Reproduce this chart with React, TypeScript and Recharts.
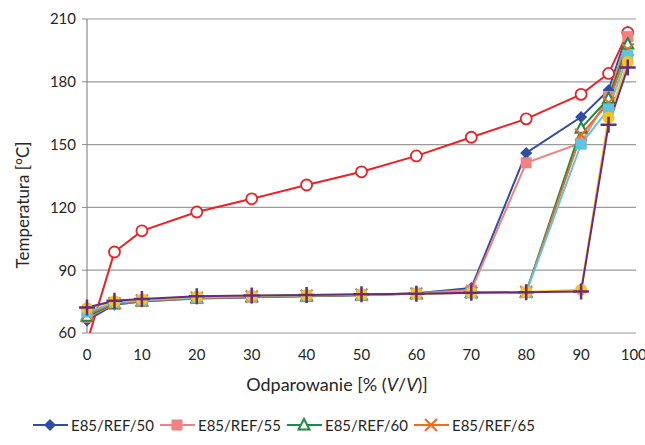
import React from 'react';
import { LineChart, Line, XAxis, YAxis, CartesianGrid } from 'recharts';

// % evaporated (shared x positions for every series)
const evaporated = [0, 5, 10, 20, 30, 40, 50, 60, 70, 80, 90, 95, 98.5];

// distillation temperatures, °C
const ref = [55.5, 98.7, 108.8, 117.8, 124.1, 130.7, 137.0, 144.6, 153.5, 162.3, 174.0, 184.0, 203.5];
const e50 = [66.0, 73.5, 75.0, 76.5, 77.0, 77.5, 78.0, 79.0, 81.5, 146.0, 163.2, 176.0, 204.0];
const e55 = [67.5, 73.8, 75.2, 76.6, 77.2, 77.6, 78.2, 79.0, 80.5, 141.3, 150.8, 173.0, 201.6];
const e60 = [68.0, 74.0, 75.3, 76.7, 77.3, 77.7, 78.2, 78.8, 79.3, 79.5, 157.8, 172.0, 198.0];
const e65 = [69.0, 74.2, 75.5, 76.8, 77.4, 77.8, 78.3, 78.8, 79.2, 79.6, 154.7, 170.0, 195.4];
const e70 = [70.0, 74.5, 75.6, 76.9, 77.5, 77.9, 78.3, 78.7, 79.1, 79.4, 150.2, 167.0, 192.5];
const e75 = [71.8, 75.2, 76.0, 77.3, 77.8, 78.1, 78.4, 78.8, 79.2, 79.6, 80.7, 163.0, 189.5];
const e80 = [72.2, 75.4, 76.2, 77.5, 77.9, 78.2, 78.5, 78.8, 79.2, 79.5, 79.8, 159.5, 186.8];

const xTicks = [0, 10, 20, 30, 40, 50, 60, 70, 80, 90, 100];
const yTicks = [60, 90, 120, 150, 180, 210];

type MarkerKind = 'diamond' | 'square' | 'triangle' | 'cross' | 'circle' | 'plus' | 'ring';

interface SeriesDef {
  key: string;
  name: string;
  values: number[];
  color: string;
  marker: MarkerKind;
}

const series: SeriesDef[] = [
  { key: 'e50', name: 'E85/REF/50', values: e50, color: '#2e4f9e', marker: 'diamond' },
  { key: 'ref', name: 'REF', values: ref, color: '#ee2024', marker: 'ring' },
  { key: 'e55', name: 'E85/REF/55', values: e55, color: '#f08282', marker: 'square' },
  { key: 'e60', name: 'E85/REF/60', values: e60, color: '#1e8a4a', marker: 'triangle' },
  { key: 'e65', name: 'E85/REF/65', values: e65, color: '#f26a22', marker: 'cross' },
  { key: 'e70', name: 'E85/REF/70', values: e70, color: '#5cc6e0', marker: 'square' },
  { key: 'e75', name: 'E85/REF/75', values: e75, color: '#f6c41a', marker: 'circle' },
  { key: 'e80', name: 'E85/REF/80', values: e80, color: '#6a2a84', marker: 'plus' },
];

// legend row along the bottom edge
const legendOrder = ['e50', 'e55', 'e60', 'e65'];

const data = evaporated.map((x, i) => {
  const row: Record<string, number> = { x };
  series.forEach((s) => {
    row[s.key] = s.values[i];
  });
  return row;
});

const Marker = ({ kind, cx, cy, color }: { kind: MarkerKind; cx: number; cy: number; color: string }) => {
  switch (kind) {
    case 'diamond':
      return <path d={`M${cx},${cy - 6}L${cx + 6},${cy}L${cx},${cy + 6}L${cx - 6},${cy}Z`} fill={color} />;
    case 'square':
      return <rect x={cx - 5.5} y={cy - 5.5} width={11} height={11} fill={color} />;
    case 'triangle':
      return (
        <path
          d={`M${cx},${cy - 6}L${cx + 5.5},${cy + 4.5}L${cx - 5.5},${cy + 4.5}Z`}
          fill="#fff"
          stroke={color}
          strokeWidth={2}
        />
      );
    case 'cross':
      return (
        <path
          d={`M${cx - 6},${cy - 6}L${cx + 6},${cy + 6}M${cx + 6},${cy - 6}L${cx - 6},${cy + 6}`}
          stroke={color}
          strokeWidth={2}
        />
      );
    case 'circle':
      return <circle cx={cx} cy={cy} r={6} fill={color} />;
    case 'plus':
      return (
        <path
          d={`M${cx - 8},${cy}L${cx + 8},${cy}M${cx},${cy - 8}L${cx},${cy + 8}`}
          stroke={color}
          strokeWidth={2.5}
        />
      );
    case 'ring':
    default:
      return <circle cx={cx} cy={cy} r={5.5} fill="#fff" stroke={color} strokeWidth={1.8} />;
  }
};

const makeDot = (s: SeriesDef) => (props: any) => {
  const { cx, cy, index, value } = props;
  // points below the axis minimum are not marked
  if (cx == null || cy == null || value < 60) return <g key={`${s.key}-${index}`} />;
  return (
    <g key={`${s.key}-${index}`}>
      <Marker kind={s.marker} cx={cx} cy={cy} color={s.color} />
    </g>
  );
};

const textColor = '#262626';
const fontFamily = 'Lato, "Open Sans", sans-serif';

export default function App() {
  return (
    <div
      style={{
        position: 'relative',
        width: 645,
        height: 445,
        overflow: 'hidden',
        background: '#fff',
        fontFamily,
        color: textColor,
      }}
    >
      <style>{'body{margin:0}.ref-line{clip-path:none}'}</style>
      <LineChart width={645} height={445} data={data} margin={{ top: 19, right: 9, bottom: 82, left: 0 }}>
        <CartesianGrid horizontal vertical={false} stroke="#9a9a9a" strokeWidth={1.2} />
        <XAxis
          dataKey="x"
          type="number"
          domain={[0, 100]}
          ticks={xTicks}
          axisLine={false}
          tickLine={false}
          tickMargin={10}
          height={30}
          tick={{ fontSize: 15, fill: textColor, fontFamily }}
        />
        <YAxis
          type="number"
          domain={[60, 210]}
          ticks={yTicks}
          allowDataOverflow
          width={87}
          axisLine={{ stroke: '#8c8c8c', strokeWidth: 1.2 }}
          tickLine={{ stroke: '#8c8c8c' }}
          tickSize={5}
          tickMargin={6}
          tick={{ fontSize: 15, fill: textColor, fontFamily }}
        />
        {series.map((s) => (
          <Line
            key={s.key}
            dataKey={s.key}
            name={s.name}
            type="linear"
            stroke={s.color}
            strokeWidth={2}
            className={s.key === 'ref' ? 'ref-line' : undefined}
            dot={makeDot(s)}
            activeDot={false}
            isAnimationActive={false}
          />
        ))}
      </LineChart>

      {/* axis titles */}
      <div
        style={{
          position: 'absolute',
          left: 22,
          top: 205,
          transform: 'translate(-50%, -50%) rotate(-90deg)',
          fontSize: 17,
          whiteSpace: 'nowrap',
        }}
      >
        Temperatura [°C]
      </div>
      <div
        style={{
          position: 'absolute',
          left: 337,
          top: 384,
          transform: 'translate(-50%, -50%)',
          fontSize: 18,
          whiteSpace: 'nowrap',
        }}
      >
        Odparowanie [% (<i>V</i>/<i>V</i>)]
      </div>

      {/* legend */}
      <div style={{ position: 'absolute', left: 33, top: 414, width: 520, display: 'flex' }}>
        {legendOrder.map((k) => {
          const s = series.find((d) => d.key === k)!;
          return (
            <div key={k} style={{ width: 127, height: 22, display: 'flex', alignItems: 'center' }}>
              <svg width={36} height={20} style={{ flex: 'none' }}>
                <line x1={0} y1={10} x2={35} y2={10} stroke={s.color} strokeWidth={2} />
                <Marker kind={s.marker} cx={17} cy={10} color={s.color} />
              </svg>
              <span style={{ fontSize: 15, marginLeft: 2, whiteSpace: 'nowrap' }}>{s.name}</span>
            </div>
          );
        })}
      </div>
    </div>
  );
}
